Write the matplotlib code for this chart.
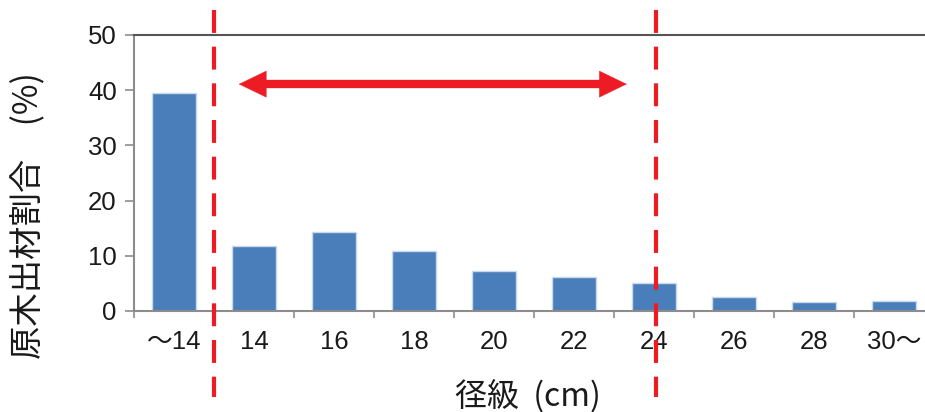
import matplotlib.pyplot as plt
import numpy as np

plt.rcParams['font.family'] = ['Liberation Sans', 'Noto Sans CJK JP', 'DejaVu Sans']

# Data
categories = ['～14', '14', '16', '18', '20', '22', '24', '26', '28', '30～']
shares = [39.5, 11.7, 14.3, 10.9, 7.2, 6.1, 5.1, 2.5, 1.6, 1.8]

# dashed range markers (category positions) and arrow span
range_lines = [0.5, 6.02]
arrow_from, arrow_to, arrow_y = 0.81, 5.66, 41.1

red = '#ed1c24'
grey = '#8c8c8c'

DPI = 100
fig = plt.figure(figsize=(925 / DPI, 412 / DPI), dpi=DPI)
ax = fig.add_axes([134 / 925, 101 / 412, 800 / 925, 276 / 412])

x = np.arange(len(categories))
ax.bar(x, shares, width=0.56, color='#4a7ebb', edgecolor='#c9d8ec', linewidth=1, zorder=2)

ax.set_xlim(-0.5, len(categories) - 0.5)
ax.set_ylim(0, 50)
ax.set_yticks(range(0, 51, 10))
ax.set_xticks(x)
ax.set_xticklabels(categories)
ax.set_xticks(np.arange(-0.5, len(categories), 1), minor=True)

ax.tick_params(axis='y', direction='out', length=6.5, width=1.2, color=grey,
               labelsize=18.5, pad=6, labelcolor='#1a1a1a')
ax.tick_params(axis='x', which='major', length=0, labelsize=18.5, pad=14, labelcolor='#1a1a1a')
ax.tick_params(axis='x', which='minor', direction='out', length=5, width=1.2, color=grey)

for side in ['left', 'bottom']:
    ax.spines[side].set_color(grey)
    ax.spines[side].set_linewidth(1.5)
ax.spines['top'].set_color('#555555')
ax.spines['top'].set_linewidth(1.5)
ax.spines['right'].set_visible(False)

# red dashed boundaries running past the plot area
for xv in range_lines:
    ax.plot([xv, xv], [1.09, -0.31], transform=ax.get_xaxis_transform(), color=red,
            linewidth=3, dashes=(5.5, 3.3), clip_on=False, zorder=5)

# double headed arrow: filled heads plus a separate shaft
head = 27 / 80
ax.annotate('', xy=(arrow_to, arrow_y), xytext=(arrow_from, arrow_y),
            arrowprops=dict(arrowstyle='<|-|>,head_length=0.97,head_width=0.47',
                            mutation_scale=20, color=red, lw=0.3,
                            shrinkA=0, shrinkB=0), zorder=6)
ax.plot([arrow_from + head * 0.9, arrow_to - head * 0.9], [arrow_y, arrow_y],
        color=red, linewidth=6, solid_capstyle='butt', zorder=6)

fig.text(29 / 925, 1 - 216 / 412, '原木出材割合　(%)', rotation=90, ha='center', va='center',
         fontsize=24, color='#1a1a1a', family=['Noto Sans CJK JP', 'DejaVu Sans'])
fig.text(528 / 925, 1 - 396 / 412, '径級  (cm)', ha='center', va='center',
         fontsize=23, color='#1a1a1a', family=['Noto Sans CJK JP', 'DejaVu Sans'])

plt.savefig('out.png', dpi=DPI)
